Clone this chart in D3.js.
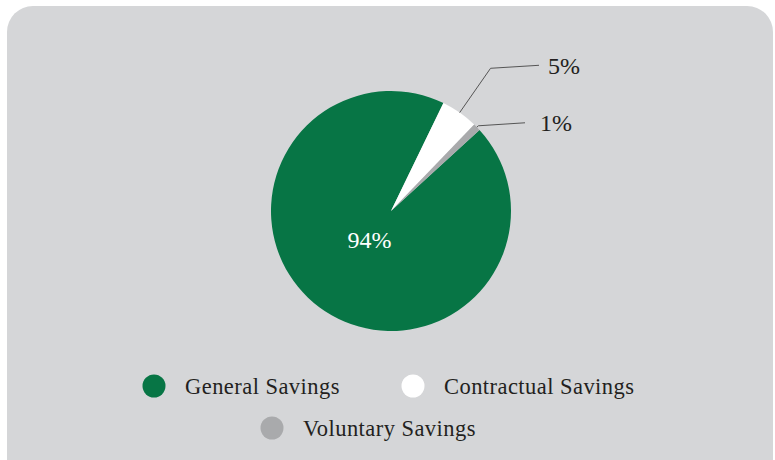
<!DOCTYPE html>
<html>
<head>
<meta charset="utf-8">
<script src="https://cdn.jsdelivr.net/npm/d3@7"></script>
<style>
  body { margin: 0; background: #fff; }
  svg { display: block; }
  text { font-family: "Liberation Serif", "Times New Roman", serif; fill: #231f20; }
</style>
</head>
<body>
<svg id="chart" width="775" height="460"></svg>
<script>
// chart data
const categories = ["General Savings", "Contractual Savings", "Voluntary Savings"];
const shares = [94, 5, 1];
const colors = ["#077545", "#ffffff", "#a9aaac"];

const width = 775, height = 460;
const svg = d3.select("#chart");

// grey panel behind everything
svg.append("rect")
  .attr("x", 7).attr("y", 6)
  .attr("width", 766).attr("height", 480)
  .attr("rx", 26).attr("ry", 26)
  .attr("fill", "#d5d6d8");

const cx = 391, cy = 211, radius = 120;
const startAngle = 47.5 * Math.PI / 180;

const pie = d3.pie()
  .sort(null)
  .value(d => d.value)
  .startAngle(startAngle)
  .endAngle(startAngle + 2 * Math.PI);

const data = categories.map((c, i) => ({ name: c, value: shares[i], color: colors[i] }));
const arcs = pie(data);

const arc = d3.arc().innerRadius(0).outerRadius(radius);
const inner = d3.arc().innerRadius(0).outerRadius(72);

const g = svg.append("g").attr("transform", `translate(${cx},${cy})`);

g.selectAll("path.slice")
  .data(arcs)
  .join("path")
  .attr("class", "slice")
  .attr("d", arc)
  .attr("fill", d => d.data.color);

// big slice label inside
const big = arcs[0];
g.append("text")
  .attr("transform", `translate(${inner.centroid(big)})`)
  .attr("text-anchor", "middle")
  .attr("dy", "0.35em")
  .style("font-size", "24px")
  .style("fill", "#fff")
  .text(d3.format(".0f")(big.data.value) + "%");

// leader lines for small slices: elbow radius, end x, label x
const leaders = [
  null,
  { elbowR: 174, endX: 148, labelX: 157, endDy: -3 },
  { elbowR: 122, endX: 134, labelX: 149, endDy: -3 }
];

arcs.forEach((d, i) => {
  const L = leaders[i];
  if (!L) return;
  const mid = (d.startAngle + d.endAngle) / 2;
  const p0 = [Math.sin(mid) * radius, -Math.cos(mid) * radius];
  const p1 = [Math.sin(mid) * L.elbowR, -Math.cos(mid) * L.elbowR];
  const p2 = [L.endX, p1[1] + L.endDy];
  g.append("polyline")
    .attr("points", [p0, p1, p2].map(p => p.join(",")).join(" "))
    .attr("fill", "none")
    .attr("stroke", "#555")
    .attr("stroke-width", 1);
  g.append("text")
    .attr("x", L.labelX)
    .attr("y", p2[1])
    .attr("dy", "0.35em")
    .style("font-size", "24px")
    .text(d.data.value + "%");
});

// legend
const legendPos = [
  { x: 154, y: 386 },
  { x: 413, y: 386 },
  { x: 272, y: 428 }
];
const legend = svg.append("g");
data.forEach((d, i) => {
  const p = legendPos[i];
  legend.append("circle")
    .attr("cx", p.x).attr("cy", p.y).attr("r", 11.5)
    .attr("fill", d.color);
  legend.append("text")
    .attr("x", p.x + 31)
    .attr("y", p.y)
    .attr("dy", "0.35em")
    .style("font-size", "22.5px")
    .style("letter-spacing", "0.45px")
    .text(d.name);
});
</script>
</body>
</html>
